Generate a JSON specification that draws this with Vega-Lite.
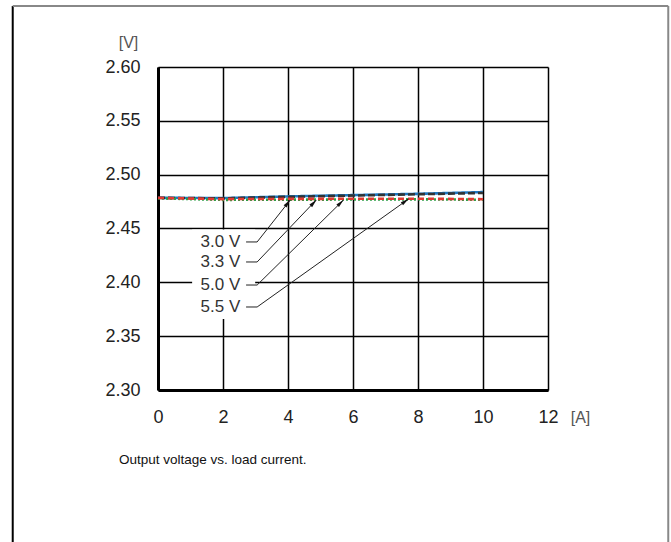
{
  "$schema": "https://vega.github.io/schema/vega-lite/v6.json",
  "width": 390,
  "height": 323,
  "autosize": {"type": "none"},
  "padding": {"left": 158, "top": 67, "right": 123, "bottom": 152},
  "background": "white",
  "config": {
    "view": {"stroke": null},
    "font": "Liberation Sans"
  },
  "encoding": {
    "x": {
      "field": "x", "type": "quantitative",
      "scale": {"domain": [0, 12], "nice": false, "zero": false},
      "axis": {
        "values": [0, 2, 4, 6, 8, 10, 12],
        "title": "[A]", "titleX": 422, "titleY": 27, "titleAngle": 0,
        "titleAlign": "center", "titleBaseline": "middle",
        "titleFontSize": 16, "titleFontWeight": "normal", "titleColor": "#555",
        "labelFontSize": 18, "labelColor": "#222", "labelPadding": 18,
        "labelFlush": false, "labelOverlap": false,
        "ticks": false, "tickSize": 0,
        "domainColor": "black", "domainWidth": 3,
        "grid": true, "gridColor": "black", "gridWidth": 1.5, "gridOpacity": 1
      }
    },
    "y": {
      "field": "y", "type": "quantitative",
      "scale": {"domain": [2.3, 2.6], "nice": false, "zero": false},
      "axis": {
        "values": [2.3, 2.35, 2.4, 2.45, 2.5, 2.55, 2.6],
        "format": ".2f",
        "title": "[V]", "titleX": -30, "titleY": -25, "titleAngle": 0,
        "titleAlign": "center", "titleBaseline": "middle",
        "titleFontSize": 16, "titleFontWeight": "normal", "titleColor": "#555",
        "labelFontSize": 18, "labelColor": "#222", "labelPadding": 18,
        "labelFlush": false, "labelOverlap": false,
        "ticks": false, "tickSize": 0,
        "domainColor": "black", "domainWidth": 3,
        "grid": true, "gridColor": "black", "gridWidth": 1.5, "gridOpacity": 1
      }
    }
  },
  "layer": [
    {
      "data": {"values": [
        {"part": "left", "x": -4.47, "y": 2.6566, "x2": -4.47, "y2": 2.14}
      ]},
      "mark": {"type": "rule", "color": "black", "strokeWidth": 2, "clip": false},
      "encoding": {"x2": {"field": "x2"}, "y2": {"field": "y2"}}
    },
    {
      "data": {"values": [
        {"part": "top", "x": -4.47, "y": 2.6566, "x2": 15.7, "y2": 2.6566},
        {"part": "right", "x": 15.7, "y": 2.6566, "x2": 15.7, "y2": 2.14}
      ]},
      "mark": {"type": "rule", "color": "#888", "strokeWidth": 2, "clip": false},
      "encoding": {"x2": {"field": "x2"}, "y2": {"field": "y2"}}
    },
    {
      "data": {"values": [
        {"s": "3.0 V", "x": 0, "y": 2.4785},
        {"s": "3.0 V", "x": 2, "y": 2.4782},
        {"s": "3.0 V", "x": 4, "y": 2.4798},
        {"s": "3.0 V", "x": 6, "y": 2.481},
        {"s": "3.0 V", "x": 8, "y": 2.4822},
        {"s": "3.0 V", "x": 10, "y": 2.4838},
        {"s": "3.3 V", "x": 0, "y": 2.4785},
        {"s": "3.3 V", "x": 2, "y": 2.478},
        {"s": "3.3 V", "x": 4, "y": 2.4794},
        {"s": "3.3 V", "x": 6, "y": 2.4806},
        {"s": "3.3 V", "x": 8, "y": 2.4818},
        {"s": "3.3 V", "x": 10, "y": 2.483},
        {"s": "5.0 V", "x": 0, "y": 2.478},
        {"s": "5.0 V", "x": 2, "y": 2.4766},
        {"s": "5.0 V", "x": 4, "y": 2.4768},
        {"s": "5.0 V", "x": 6, "y": 2.4769},
        {"s": "5.0 V", "x": 8, "y": 2.4771},
        {"s": "5.0 V", "x": 10, "y": 2.4767},
        {"s": "5.5 V", "x": 0, "y": 2.4784},
        {"s": "5.5 V", "x": 2, "y": 2.4773},
        {"s": "5.5 V", "x": 4, "y": 2.4775},
        {"s": "5.5 V", "x": 6, "y": 2.4776},
        {"s": "5.5 V", "x": 8, "y": 2.4777},
        {"s": "5.5 V", "x": 10, "y": 2.4772}
      ]},
      "mark": {"type": "line", "strokeWidth": 2.6},
      "encoding": {
        "color": {
          "field": "s", "type": "nominal",
          "scale": {"domain": ["3.0 V", "3.3 V", "5.0 V", "5.5 V"], "range": ["#1f78c0", "#333333", "#2e9e48", "#e23a32"]},
          "legend": null
        },
        "strokeDash": {
          "field": "s", "type": "nominal",
          "scale": {"domain": ["3.0 V", "3.3 V", "5.0 V", "5.5 V"], "range": [[1, 0], [7, 3], [2, 2], [6, 4]]},
          "legend": null
        }
      }
    },
    {
      "data": {"values": [
        {"box": "labels", "x": 1.05, "y": 2.449, "x2": 2.99, "y2": 2.366}
      ]},
      "mark": {"type": "rect", "color": "white", "opacity": 1},
      "encoding": {"x2": {"field": "x2"}, "y2": {"field": "y2"}}
    },
    {
      "data": {"values": [
        {"label": "3.0 V", "x": 2.71, "y": 2.4375, "x2": 3.05, "y2": 2.4375},
        {"label": "3.0 V", "x": 3.05, "y": 2.4375, "x2": 4.07, "y2": 2.4765},
        {"label": "3.3 V", "x": 2.71, "y": 2.4189, "x2": 3.05, "y2": 2.4189},
        {"label": "3.3 V", "x": 3.05, "y": 2.4189, "x2": 4.87, "y2": 2.4765},
        {"label": "5.0 V", "x": 2.71, "y": 2.3975, "x2": 3.05, "y2": 2.3975},
        {"label": "5.0 V", "x": 3.05, "y": 2.3975, "x2": 5.71, "y2": 2.4765},
        {"label": "5.5 V", "x": 2.71, "y": 2.3771, "x2": 3.05, "y2": 2.3771},
        {"label": "5.5 V", "x": 3.05, "y": 2.3771, "x2": 7.71, "y2": 2.4774}
      ]},
      "mark": {"type": "rule", "color": "#222", "strokeWidth": 1},
      "encoding": {"x2": {"field": "x2"}, "y2": {"field": "y2"}}
    },
    {
      "data": {"values": [{"label": "3.0 V", "x": 3.99, "y": 2.4736}]},
      "mark": {"type": "point", "shape": "M0,-1L0.45,1L-0.45,1Z", "filled": true, "color": "#111", "size": 70, "opacity": 1, "angle": 38}
    },
    {
      "data": {"values": [{"label": "3.3 V", "x": 4.79, "y": 2.4738}]},
      "mark": {"type": "point", "shape": "M0,-1L0.45,1L-0.45,1Z", "filled": true, "color": "#111", "size": 70, "opacity": 1, "angle": 44}
    },
    {
      "data": {"values": [{"label": "5.0 V", "x": 5.62, "y": 2.4739}]},
      "mark": {"type": "point", "shape": "M0,-1L0.45,1L-0.45,1Z", "filled": true, "color": "#111", "size": 70, "opacity": 1, "angle": 45}
    },
    {
      "data": {"values": [{"label": "5.5 V", "x": 7.61, "y": 2.4753}]},
      "mark": {"type": "point", "shape": "M0,-1L0.45,1L-0.45,1Z", "filled": true, "color": "#111", "size": 70, "opacity": 1, "angle": 54}
    },
    {
      "data": {"values": [
        {"label": "3.0 V", "x": 2.53, "y": 2.4375},
        {"label": "3.3 V", "x": 2.53, "y": 2.4189},
        {"label": "5.0 V", "x": 2.53, "y": 2.3975},
        {"label": "5.5 V", "x": 2.53, "y": 2.3771}
      ]},
      "mark": {"type": "text", "align": "right", "baseline": "middle", "fontSize": 17, "color": "#333"},
      "encoding": {"text": {"field": "label"}}
    },
    {
      "data": {"values": [
        {"note": "Output voltage vs. load current.", "x": -1.2, "y": 2.235}
      ]},
      "mark": {"type": "text", "align": "left", "baseline": "middle", "fontSize": 13.5, "color": "#111", "clip": false},
      "encoding": {"text": {"field": "note"}}
    }
  ]
}
